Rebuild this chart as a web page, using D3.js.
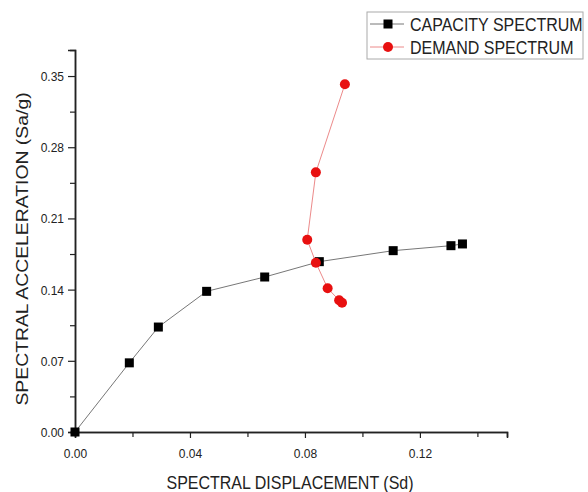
<!DOCTYPE html>
<html><head><meta charset="utf-8">
<script src="https://cdn.jsdelivr.net/npm/d3@7"></script>
<style>body{margin:0;background:#fff}svg{display:block;font-family:"Liberation Sans",Arial,sans-serif}
.st{transform-box:fill-box;transform-origin:center;transform:scale(1,1.13)}</style>
</head><body><svg id="c" width="588" height="492"></svg>
<script>
const capacityX = [0, 0.0189, 0.029, 0.0458, 0.066, 0.085, 0.1107, 0.1308, 0.1348];
const capacityY = [0, 0.068, 0.1032, 0.1383, 0.1524, 0.1675, 0.1783, 0.1832, 0.1849];
const demandX = [0.0939, 0.0838, 0.0808, 0.0838, 0.0879, 0.0919, 0.0929];
const demandY = [0.3419, 0.2553, 0.1890, 0.1665, 0.1413, 0.1295, 0.1271];
const xTicks = [0, 0.04, 0.08, 0.12];
const yTicks = [0, 0.07, 0.14, 0.21, 0.28, 0.35];
const xMinor = [0.02, 0.06, 0.10, 0.14];
const yMinor = [0.035, 0.105, 0.175, 0.245, 0.315];
const seriesNames = ["CAPACITY SPECTRUM", "DEMAND SPECTRUM"];

const svg = d3.select("#c");
const x = d3.scaleLinear().domain([0, 0.1503]).range([75, 507]);
const y = d3.scaleLinear().domain([0, 0.3756]).range([432, 50]);

// axes
const xAxis = svg.append("g").attr("transform", "translate(0,432)")
  .call(d3.axisBottom(x).tickValues(xTicks).tickFormat(d3.format(".2f")).tickSize(6).tickPadding(5));
xAxis.selectAll(".tick text").attr("y", 25).attr("dy", 0);
const xAxisMinor = svg.append("g").attr("transform", "translate(0,432)")
  .call(d3.axisBottom(x).tickValues(xMinor).tickFormat("").tickSize(5));
const yAxis = svg.append("g").attr("transform", "translate(75,0)")
  .call(d3.axisLeft(y).tickValues(yTicks).tickFormat(d3.format(".2f")).tickSize(7).tickPadding(4));
const yAxisMinor = svg.append("g").attr("transform", "translate(75,0)")
  .call(d3.axisLeft(y).tickValues(yMinor).tickFormat("").tickSize(5));
[xAxis, xAxisMinor, yAxis, yAxisMinor].forEach(g => {
  g.select(".domain").attr("stroke", "#222").attr("stroke-width", 1.5);
  g.selectAll(".tick line").attr("stroke", "#222").attr("stroke-width", 1.2);
  g.selectAll(".tick text").attr("class", "st").attr("fill", "#222").style("font-size", "12px").style("font-family", '"Liberation Sans",Arial,sans-serif');
});

// axis titles
svg.append("text").attr("class", "st").attr("x", 290).attr("y", 488).attr("text-anchor", "middle")
  .style("font-size", "16px").attr("fill", "#222").text("SPECTRAL DISPLACEMENT (Sd)");
svg.append("text").attr("transform", "translate(28,249) scale(1,1.14) rotate(-90)").attr("text-anchor", "middle")
  .style("font-size", "17px").attr("fill", "#222").text("SPECTRAL ACCELERATION (Sa/g)");

const line = d3.line().x(d => x(d[0])).y(d => y(d[1]));
const cap = capacityX.map((v, i) => [v, capacityY[i]]);
const dem = demandX.map((v, i) => [v, demandY[i]]);

svg.append("path").datum(cap).attr("d", line).attr("fill", "none").attr("stroke", "#777").attr("stroke-width", 1);
svg.append("path").datum(dem).attr("d", line).attr("fill", "none").attr("stroke", "#ec8a8a").attr("stroke-width", 1);

svg.selectAll(".sq").data(cap).enter().append("rect")
  .attr("x", d => x(d[0]) - 4.5).attr("y", d => y(d[1]) - 4.5).attr("width", 9).attr("height", 9).attr("fill", "#000");
svg.selectAll(".ci").data(dem).enter().append("circle")
  .attr("cx", d => x(d[0])).attr("cy", d => y(d[1])).attr("r", 5).attr("fill", "#e81010");

// legend
const lg = svg.append("g");
lg.append("rect").attr("x", 367).attr("y", 12).attr("width", 216).attr("height", 47)
  .attr("fill", "#fff").attr("stroke", "#aaa").attr("stroke-width", 1);
const rows = [24, 47];
lg.append("line").attr("x1", 370).attr("x2", 404).attr("y1", rows[0]).attr("y2", rows[0]).attr("stroke", "#777");
lg.append("rect").attr("x", 388 - 4.5).attr("y", rows[0] - 4.5).attr("width", 9).attr("height", 9).attr("fill", "#000");
lg.append("line").attr("x1", 370).attr("x2", 404).attr("y1", rows[1]).attr("y2", rows[1]).attr("stroke", "#ec8a8a");
lg.append("circle").attr("cx", 388).attr("cy", rows[1]).attr("r", 5).attr("fill", "#e81010");
seriesNames.forEach((n, i) => {
  lg.append("text").attr("class", "st").attr("x", 410).attr("y", rows[i] + 6).style("font-size", "16px").attr("fill", "#222").text(n);
});
</script></body></html>
